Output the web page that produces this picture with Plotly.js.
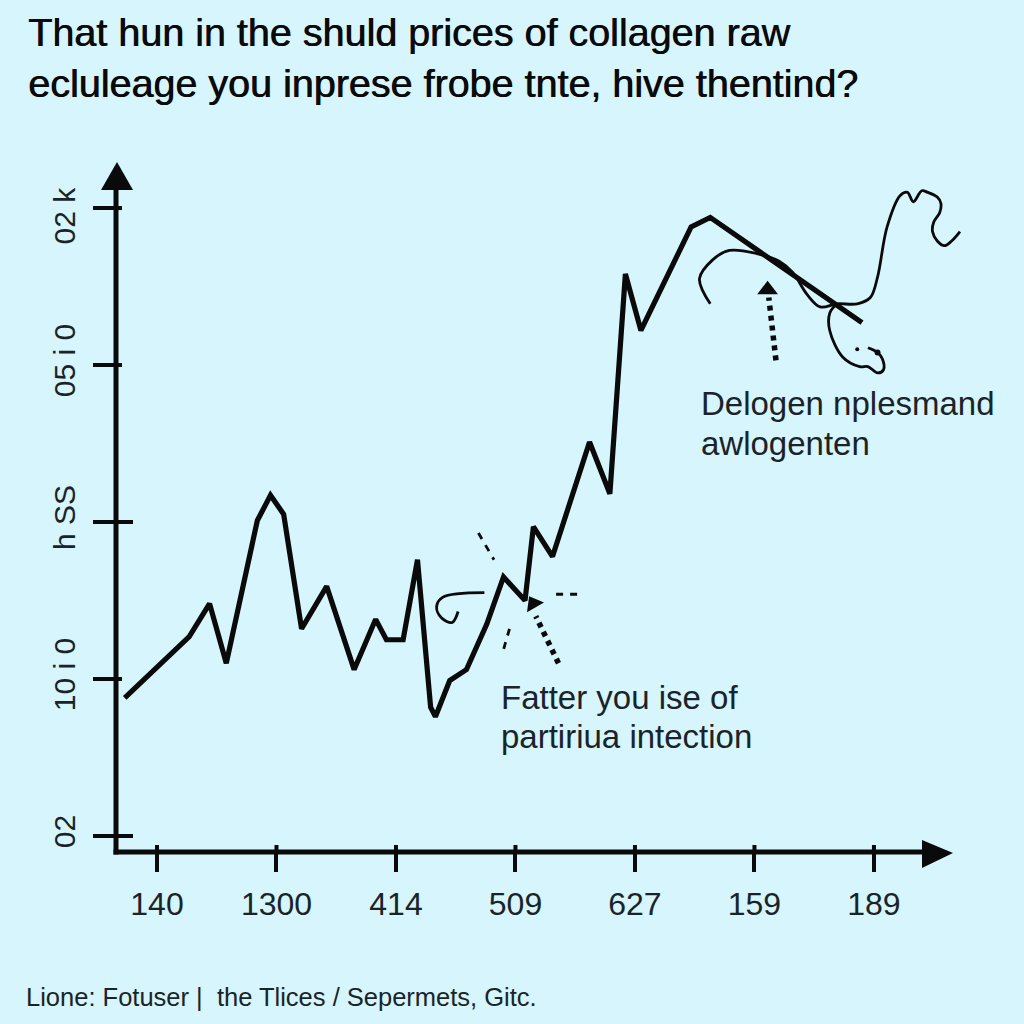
<!DOCTYPE html>
<html><head><meta charset="utf-8">
<script src="https://cdn.plot.ly/plotly-3.0.1.min.js"></script>
<style>html,body{margin:0;padding:0;background:#d6f5fc}</style></head>
<body><div id="chart" style="width:1024px;height:1024px"></div>
<script>
const xTickVals=[0,1,2,3,4,5,6];
const xTickText=['140','1300','414','509','627','159','189'];
const yTickVals=[0,1,2,3,4];
const yTickText=['02','10 i 0','h SS','05 i 0','02 k\u00a0\u00a0\u00a0'];
const yStubLong=[true,false,true,false,false];
const mainX=[-0.27,0.27,0.44,0.58,0.84,0.95,1.06,1.21,1.42,1.65,1.83,1.92,2.06,2.18,2.29,2.33,2.45,2.59,2.76,2.90,3.08,3.15,3.31,3.62,3.79,3.92,4.05,4.47,4.63,5.90];
const mainY=[0.88,1.27,1.48,1.10,2.01,2.17,2.05,1.32,1.59,1.06,1.38,1.25,1.25,1.76,0.82,0.76,0.99,1.06,1.35,1.65,1.50,1.97,1.78,2.51,2.18,3.58,3.22,3.88,3.94,3.27];
const curlX=[4.63,4.54,4.65,4.79,5.02,5.21,5.32,5.44,5.55,5.69,5.86,5.97,6.03,6.11,6.22,6.28,6.33,6.40,6.45,6.53,6.56,6.55,6.50,6.49,6.53,6.59,6.65,6.72];
const curlY=[3.39,3.55,3.67,3.73,3.71,3.66,3.59,3.45,3.37,3.39,3.39,3.43,3.56,3.88,4.08,4.10,4.04,4.11,4.10,4.07,4.03,3.97,3.91,3.85,3.79,3.76,3.79,3.85];
const loopX=[5.69,5.63,5.63,5.74,5.88,5.95,6.03,6.08,6.07,6.03,5.95];
const loopY=[3.39,3.33,3.22,3.05,2.99,2.99,2.95,2.97,3.04,3.08,3.11];
const hookX=[2.74,2.39,2.34,2.38,2.47,2.52];
const hookY=[1.55,1.52,1.46,1.39,1.36,1.43];
const dashes=[[[2.69,2.82],[1.93,1.76]],[[2.95,2.89],[1.32,1.16]],[[3.34,3.55],[1.54,1.54]]];
const arrowA=[[5.18,5.12],[3.03,3.43]], arrowAHead=[5.11,3.48];
const arrowB=[[3.36,3.17],[1.10,1.40]], arrowBHead=[3.15,1.48];
const dotMark=[5.86,3.10], knotMark=[6.03,3.08];
const xRange=[-0.343,6.762], yRange=[-0.102,4.306];
const ink='#0a0a0a';
const ln=(x,y,w,extra)=>({x,y,mode:'lines',cliponaxis:false,hoverinfo:'skip',line:Object.assign({color:ink,width:w},extra||{})});
const mk=(x,y,sym,size,ang)=>({x:[x],y:[y],mode:'markers',cliponaxis:false,hoverinfo:'skip',marker:{symbol:sym,size,color:ink,angle:ang||0}});
const traces=[
 ln(curlX,curlY,2.8,{shape:'spline',smoothing:1}),
 ln(loopX,loopY,2.8,{shape:'spline',smoothing:1}),
 ln(hookX,hookY,2.8,{shape:'spline',smoothing:1}),
 ln(mainX,mainY,5.2),
 ...dashes.map(d=>ln(d[0],d[1],2.8,{dash:'7px,7px'})),
 ln(arrowA[0],arrowA[1],5.5,{dash:'5px,5px'}),
 mk(arrowAHead[0],arrowAHead[1],'triangle-up',18),
 ln(arrowB[0],arrowB[1],5.5,{dash:'5px,5px'}),
 mk(arrowBHead[0],arrowBHead[1],'triangle-up',17,-30),
 mk(dotMark[0],dotMark[1],'circle',4),
 mk(knotMark[0],knotMark[1],'circle',6),
];
const px=p=>(p-116)/(965-116), py=p=>(852-p)/(852-160);
const paperLine=(x0,y0,x1,y1,w)=>({type:'line',xref:'paper',yref:'paper',x0:px(x0),y0:py(y0),x1:px(x1),y1:py(y1),line:{color:ink,width:w}});
const tri=(a,b,c)=>({type:'path',xref:'paper',yref:'paper',fillcolor:ink,line:{width:0},path:`M${px(a[0])} ${py(a[1])}L${px(b[0])} ${py(b[1])}L${px(c[0])} ${py(c[1])}Z`});
const shapes=[
 paperLine(116,854.5,116,185,5),
 paperLine(113.5,852,925,852,5),
 tri([101,190],[117,162],[133,190]),
 tri([922,840],[953,853],[922,868]),
];
yTickVals.forEach((v,i)=>shapes.push({type:'line',xref:'paper',yref:'y',x0:px(116),x1:px(yStubLong[i]?133:122),y0:v,y1:v,line:{color:ink,width:4}}));
xTickVals.forEach(v=>shapes.push({type:'line',xref:'x',yref:'paper',x0:v,x1:v,y0:py(852),y1:py(845),line:{color:ink,width:4}}));
const sans='"Liberation Sans",Arial,sans-serif';
const note=(text,x,y,size)=>({text,xref:'paper',yref:'paper',x:px(x),y:py(y),xanchor:'left',yanchor:'middle',align:'left',showarrow:false,font:{family:sans,size,color:'#1a2428'}});
const layout={
 width:1024,height:1024,showlegend:false,paper_bgcolor:'#d6f5fc',plot_bgcolor:'#d6f5fc',
 margin:{l:116,r:59,t:160,b:172,pad:0},
 title:{text:'That hun in the shuld prices of collagen raw<br>ecluleage you inprese frobe tnte, hive thentind?',x:28/1024,xref:'container',xanchor:'left',y:1-46/1024,yref:'container',yanchor:'top',font:{family:sans,size:39.5,color:'#0a0a0a',shadow:'0.7px 0 0 #0a0a0a'}},
 xaxis:{range:xRange,tickmode:'array',tickvals:xTickVals,ticktext:xTickText,showgrid:false,zeroline:false,showline:false,ticks:'outside',ticklen:19,tickwidth:4,tickcolor:ink,ticklabelstandoff:5,tickfont:{family:sans,size:32,color:'#1a2428'}},
 yaxis:{range:yRange,tickmode:'array',tickvals:yTickVals,ticktext:yTickText,showgrid:false,zeroline:false,showline:false,ticks:'outside',ticklen:22,tickwidth:4,tickcolor:ink,ticklabelstandoff:6,tickangle:-90,tickfont:{family:sans,size:30,color:'#1a2428'}},
 shapes,
 annotations:[
  note('Delogen nplesmand',699,403,33),
  note('awlogenten',699,443,33),
  note('Fatter you ise of',499,697,33),
  note('partiriua intection',499,736,33),
  note('Lione: Fotuser |  the Tlices / Sepermets, Gitc.',24,997,25.5),
 ]
};
Plotly.newPlot('chart',traces,layout,{displayModeBar:false,staticPlot:true});
</script></body></html>
